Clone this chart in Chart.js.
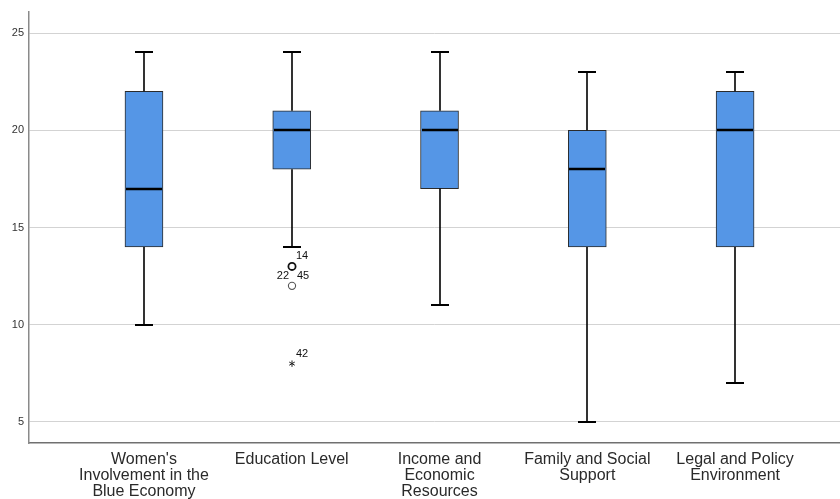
<!DOCTYPE html>
<html>
<head>
<meta charset="utf-8">
<script src="https://cdn.jsdelivr.net/npm/chart.js@4/dist/chart.umd.min.js"></script>
<style>
  html, body { margin: 0; padding: 0; background: #fff; }
  #wrap { width: 840px; height: 499px; }
</style>
</head>
<body>
<div id="wrap"><canvas id="c" width="840" height="499"></canvas></div>
<script>
// Box plot of the five scale scores
const categories = [
  ["Women's", "Involvement in the", "Blue Economy"],
  ["Education Level"],
  ["Income and", "Economic", "Resources"],
  ["Family and Social", "Support"],
  ["Legal and Policy", "Environment"]
];
const whiskerLow  = [10, 14, 11, 5, 7];
const q1          = [14, 18, 17, 14, 14];
const median      = [17, 20, 20, 18, 20];
const q3          = [22, 21, 21, 20, 22];
const whiskerHigh = [24, 24, 24, 23, 23];
const yTicks      = [5, 10, 15, 20, 25];

// Outliers (circles) and extremes (stars) with their case numbers
const outlierCat    = [1, 1];
const outlierValue  = [13, 12];
const outlierCases  = [["14"], ["22", "45"]];
const extremeCat    = [1];
const extremeValue  = [8];
const extremeCases  = [["42"]];

const boxData = categories.map((c, i) => ({ x: i, y: [q1[i], q3[i]] }));

const boxPlugin = {
  id: 'boxParts',
  afterDatasetsDraw(chart) {
    const { ctx, scales: { x, y } } = chart;
    ctx.save();
    const capHalf = 9, boxHalf = 19;
    ctx.strokeStyle = '#000';
    // whiskers and caps
    categories.forEach((c, i) => {
      const px = Math.round(x.getPixelForValue(i));
      ctx.lineWidth = 1.6;
      ctx.beginPath();
      ctx.moveTo(px, y.getPixelForValue(q3[i]));
      ctx.lineTo(px, y.getPixelForValue(whiskerHigh[i]));
      ctx.moveTo(px, y.getPixelForValue(q1[i]));
      ctx.lineTo(px, y.getPixelForValue(whiskerLow[i]));
      ctx.stroke();
      ctx.lineWidth = 2;
      ctx.beginPath();
      const hy = Math.round(y.getPixelForValue(whiskerHigh[i]));
      const ly = Math.round(y.getPixelForValue(whiskerLow[i]));
      ctx.moveTo(px - capHalf, hy); ctx.lineTo(px + capHalf, hy);
      ctx.moveTo(px - capHalf, ly); ctx.lineTo(px + capHalf, ly);
      ctx.stroke();
      // median
      ctx.lineWidth = 2.4;
      const my = Math.round(y.getPixelForValue(median[i]));
      ctx.beginPath();
      ctx.moveTo(px - boxHalf + 1, my); ctx.lineTo(px + boxHalf - 1, my);
      ctx.stroke();
    });
    // outliers
    ctx.font = '11px "Liberation Sans", Arial, sans-serif';
    ctx.fillStyle = '#111';
    outlierValue.forEach((v, k) => {
      const px = Math.round(x.getPixelForValue(outlierCat[k]));
      const py = y.getPixelForValue(v);
      ctx.lineWidth = k === 0 ? 1.8 : 1.1;
      ctx.strokeStyle = k === 0 ? '#111' : '#555';
      ctx.beginPath();
      ctx.arc(px, py, 3.6, 0, Math.PI * 2);
      ctx.stroke();
      const cases = outlierCases[k];
      ctx.textBaseline = 'middle';
      if (cases.length === 1) {
        ctx.textAlign = 'left';
        ctx.fillText(cases[0], px + 4, py - 10);
      } else {
        ctx.textAlign = 'right';
        ctx.fillText(cases[0], px - 3, py - 10);
        ctx.textAlign = 'left';
        ctx.fillText(cases[1], px + 5, py - 10);
      }
    });
    // extremes
    extremeValue.forEach((v, k) => {
      const px = Math.round(x.getPixelForValue(extremeCat[k]));
      const py = y.getPixelForValue(v);
      ctx.strokeStyle = '#222';
      ctx.lineWidth = 1;
      ctx.beginPath();
      for (let a = 0; a < 3; a++) {
        const ang = a * Math.PI / 3 + Math.PI / 2;
        ctx.moveTo(px - 3.2 * Math.cos(ang), py - 3.2 * Math.sin(ang));
        ctx.lineTo(px + 3.2 * Math.cos(ang), py + 3.2 * Math.sin(ang));
      }
      ctx.stroke();
      ctx.textAlign = 'left';
      ctx.textBaseline = 'middle';
      ctx.fillText(extremeCases[k][0], px + 4, py - 10);
    });
    ctx.restore();
  }
};

new Chart(document.getElementById('c'), {
  type: 'bar',
  data: {
    datasets: [{
      data: boxData,
      backgroundColor: '#5596e6',
      borderColor: '#2b2b2b',
      borderWidth: 1,
      borderSkipped: false,
      barThickness: 38
    }]
  },
  options: {
    responsive: false,
    animation: false,
    devicePixelRatio: 1,
    layout: { padding: { top: 12, right: 0, left: 0, bottom: 0 } },
    plugins: { legend: { display: false }, tooltip: { enabled: false } },
    scales: {
      x: {
        type: 'linear',
        offset: false,
        min: -0.778,
        max: 4.71,
        afterBuildTicks(scale) { scale.ticks = categories.map((c, i) => ({ value: i })); },
        afterFit(scale) { scale.height = 56; },
        grid: { display: false, drawTicks: false, offset: false },
        border: { display: true, color: '#707070', width: 1.5 },
        ticks: {
          autoSkip: false,
          maxRotation: 0,
          padding: 9,
          color: '#2a2a2a',
          font: { family: '"Liberation Sans", Arial, sans-serif', size: 16, lineHeight: 1.0 },
          callback: (v) => categories[v]
        }
      },
      y: {
        min: 3.92,
        max: 26.08,
        afterBuildTicks(scale) { scale.ticks = yTicks.map(v => ({ value: v })); },
        afterFit(scale) { scale.width = 29; },
        grid: { color: '#d3d3d3', lineWidth: 1, drawTicks: false },
        border: { display: true, color: '#8a8a8a', width: 1.5 },
        ticks: {
          padding: 5,
          color: '#333',
          font: { family: '"Liberation Sans", Arial, sans-serif', size: 11 }
        }
      }
    }
  },
  plugins: [boxPlugin]
});
</script>
</body>
</html>
